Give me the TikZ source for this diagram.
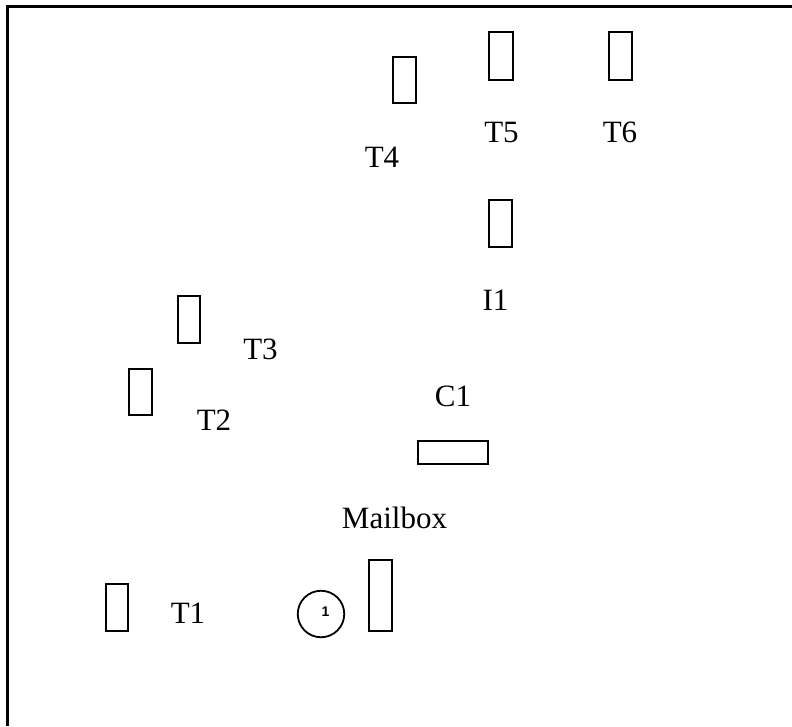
\documentclass[tikz,border=0pt]{standalone}
\usepackage{fontspec}
\setmainfont{Liberation Serif}
\newfontfamily\numfont{Liberation Sans}
\begin{document}
\begin{tikzpicture}[x=1pt,y=-1pt,
  slot/.style={draw=black,line width=1.8pt,fill=white,rectangle,inner sep=0pt},
  lbl/.style={font=\fontsize{31}{37}\selectfont,anchor=base,inner sep=0pt}]
\useasboundingbox (0,0) rectangle (792,726);
\fill[white] (0,0) rectangle (792,726);
% frame
\coordinate (ftr) at (792,6.5);
\coordinate (ftl) at (7.7,6.5);
\coordinate (fbl) at (7.7,726);
\draw[line width=2.6pt] (ftr) -- (ftl) -- (fbl);
% boxes
\node[slot,minimum width=23.5pt,minimum height=46.5pt] (t4box) at (404.5,80) {};
\node[slot,minimum width=24.5pt,minimum height=48.5pt] (t5box) at (501,56) {};
\node[slot,minimum width=23.5pt,minimum height=48.5pt] (t6box) at (620.5,56) {};
\node[slot,minimum width=23.5pt,minimum height=47.5pt] (i1box) at (500.5,223.5) {};
\node[slot,minimum width=22.5pt,minimum height=47.5pt] (t3box) at (189,319.5) {};
\node[slot,minimum width=23.5pt,minimum height=46.5pt] (t2box) at (140.5,392) {};
\node[slot,minimum width=70.5pt,minimum height=23.5pt] (c1box) at (453,452.5) {};
\node[slot,minimum width=22.5pt,minimum height=47.5pt] (t1box) at (117,607.5) {};
\node[slot,minimum width=23.5pt,minimum height=71.5pt] (mbox) at (380.5,595.5) {};
\node[draw=black,line width=1.8pt,circle,minimum size=46.5pt,inner sep=0pt] (circ) at (321,614) {};
\node[font=\numfont\bfseries\fontsize{14}{16}\selectfont,inner sep=0pt] (one) at (325.5,612) {1};
% labels
\node[lbl] (t4) at (382,167) {T4};
\node[lbl] (t5) at (501.5,142) {T5};
\node[lbl] (t6) at (620,142) {T6};
\node[lbl] (i1) at (495.5,310) {I1};
\node[lbl] (t3) at (260.5,359) {T3};
\node[lbl] (t2) at (214,430) {T2};
\node[lbl] (c1) at (453,406.5) {C1};
\node[lbl] (mail) at (394.5,528) {Mailbox};
\node[lbl] (t1) at (188,623) {T1};
\end{tikzpicture}
\end{document}
